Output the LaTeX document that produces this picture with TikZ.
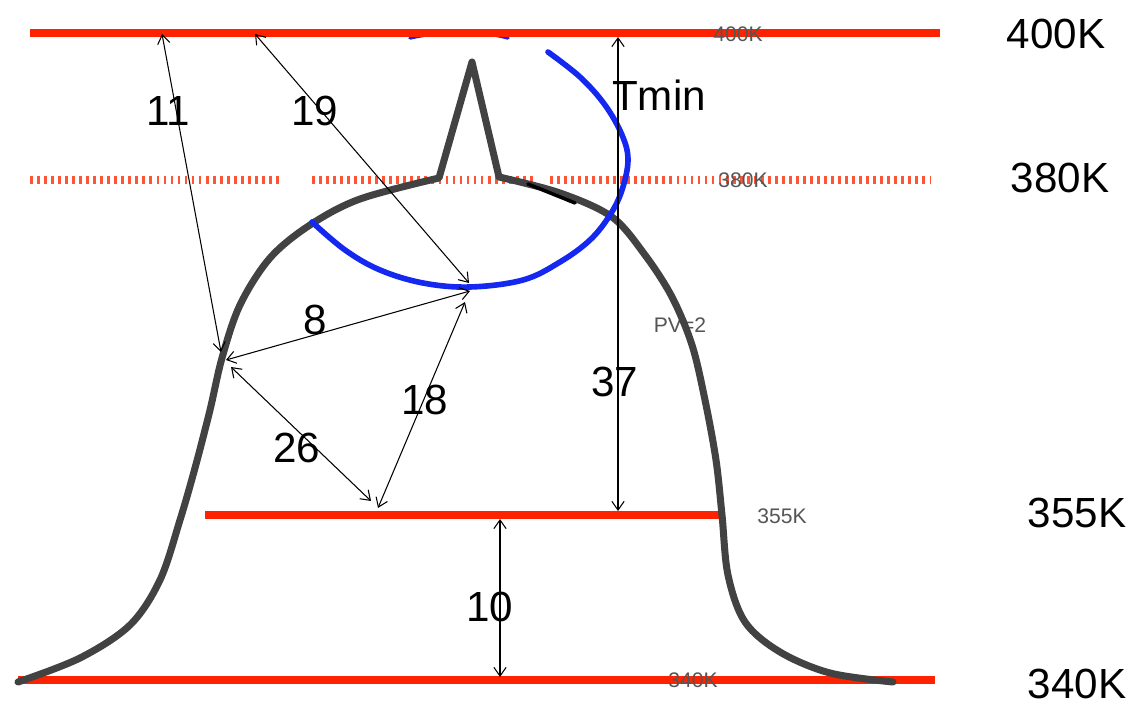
\documentclass[tikz,border=0pt]{standalone}
\usepackage{fontspec}
\setmainfont{Liberation Sans}
\usetikzlibrary{arrows.meta}
\usepackage{xcolor}
\definecolor{isored}{RGB}{255,34,0}
\definecolor{isodot}{RGB}{255,85,55}
\definecolor{pvgray}{RGB}{66,66,66}
\definecolor{pvblue}{RGB}{20,40,240}
\definecolor{tagray}{RGB}{85,85,85}

\begin{document}
\begin{tikzpicture}[x=0.02cm, y=-0.02cm, >={Straight Barb[length=5pt,width=7pt]},
  isen/.style={isored, line width=4pt},
  isendot/.style={isodot, line width=4.5pt, dash pattern=on 1.6pt off 2.4pt},
  pvline/.style={pvgray, line width=4pt, line join=round, line cap=round},
  tminline/.style={pvblue, line width=3.2pt, line cap=round},
  dist/.style={<->, black, line width=0.6pt},
  big/.style={font=\fontsize{24}{26}\selectfont, inner sep=0pt},
  small/.style={font=\fontsize{12}{13}\selectfont, text=tagray, inner sep=0pt}]
\useasboundingbox (0,0) rectangle (1140,709);

% --- top of the blue loop, mostly under the 400K line ---
\draw[tminline, line width=2pt] (410,38) .. controls (440,31) and (480,30) .. (508,38);

% --- isentropes ---
\draw[isen] (30,33) -- (940,33);
\foreach \xa/\xb in {30/280, 312/535, 550/930}{ \draw[isendot] (\xa,180) -- (\xb,180); }
\draw[isen] (205,515) -- (720,515);
\draw[isen] (18,680) -- (935,680);

\node[small] (t400) at (738,34) {400K};
\node[small] (t380) at (743,180) {380K};
\node[small] (t355) at (782,516) {355K};
\node[small] (t340) at (693,680) {340K};
\node[small] (pv) at (680,325) {PV=2};

% --- PV=2 surface with the fold on top ---
\draw[pvline] plot[smooth, tension=0.55] coordinates {(18,682) (80,658) (130,625) (160,580)
  (180,520) (195,468) (210,410) (222,358) (240,305) (270,258) (310,225) (360,199) (439,178)}
  -- (472,62) -- (499,177)
  plot[smooth, tension=0.55] coordinates {(499,177) (560,193) (612,217) (645,255) (672,297)
  (692,345) (705,400) (716,460) (722,515) (728,575) (745,622) (780,652) (830,673) (893,682)};
\draw[black, line width=2pt, line cap=round] (528,184) -- (575,203);

% --- Tmin loop ---
\draw[tminline] plot[smooth, tension=0.6] coordinates {(548,52) (580,77) (605,105) (622,135)
  (628,160) (622,190) (610,215) (590,240) (560,262) (523,280) (470,287) (423,283)
  (380,270) (345,250) (312,222)};

% --- end points of the distances ---
\coordinate (a11) at (162,34);
\coordinate (b11) at (221,352);
\coordinate (a19) at (255,34);
\coordinate (b19) at (469,283);
\coordinate (a8) at (226,360);
\coordinate (b8) at (470,291);
\coordinate (a26) at (231,367);
\coordinate (b26) at (371,501);
\coordinate (a18) at (465,302);
\coordinate (b18) at (378,508);
\coordinate (a37) at (618,37);
\coordinate (b37) at (618,511);
\coordinate (a10) at (500,519);
\coordinate (b10) at (500,677);

\foreach \d in {11,19,8,26,18,37,10}{ \draw[dist] (a\d) -- (b\d); }

% --- labels ---
\node[big] (l11) at (168,111) {11};
\node[big] (l19) at (315,111) {19};
\node[big] (l8) at (315,320) {8};
\node[big] (l26) at (297,448) {26};
\node[big] (l18) at (425,400) {18};
\node[big] (l37) at (615,382) {37};
\node[big] (l10) at (490,607) {10};
\node[big] (tmin) at (659,95) {Tmin};

\node[big] (k400) at (1056,34) {400K};
\node[big] (k380) at (1060,178) {380K};
\node[big] (k355) at (1077,513) {355K};
\node[big] (k340) at (1077,684) {340K};
\end{tikzpicture}
\end{document}
